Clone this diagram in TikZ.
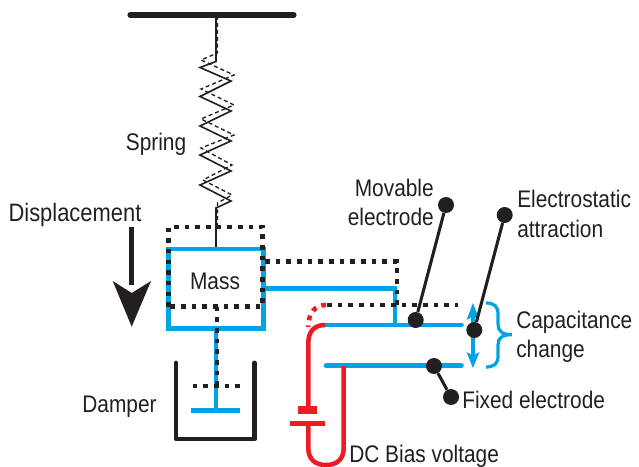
\documentclass[tikz,border=0pt]{standalone}
\usepackage{fontspec}
\setmainfont[FakeStretch=0.87]{Liberation Sans}
\definecolor{bl}{HTML}{00A4E4}
\definecolor{rd}{HTML}{ED1C24}
\definecolor{bk}{HTML}{231F20}
\tikzset{
 x=0.75pt,y=-0.75pt,
 lbl/.style={text=bk,font=\fontsize{18}{21.8}\selectfont,inner sep=0pt},
 blue line/.style={draw=bl,line width=3.5pt},
 red line/.style={draw=rd,line width=3.4pt},
 dots/.style={draw=bk,line width=3.4pt,dash pattern=on 3.4pt off 4.6pt},
 thin dash/.style={draw=bk,line width=1pt,dash pattern=on 3pt off 2.2pt},
 spring/.style={draw=bk,line width=1.2pt},
 heavy/.style={draw=bk,line width=3.6pt},
 dot/.style={circle,fill=bk,minimum size=12pt,inner sep=0pt},
 leader/.style={draw=bk,line width=2.3pt},
}
\begin{document}
\begin{tikzpicture}
\useasboundingbox (0,0) rectangle (639,467);
% frame
\draw[draw=bk,line width=3.8pt,line cap=round] (130,15) -- (294,15);
% spring
\draw[thin dash] (217.5,16) -- (217.5,53) -- (201,60) -- (234,75) -- (201,89) -- (234,105) -- (201,119) -- (234,135) -- (201,148) -- (232,165) -- (203,180) -- (232,195) -- (217.5,203) -- (217.5,227);
\draw[spring] (216,15) -- (216,61.5) -- (200,67.5) -- (231,81) -- (200,96.5) -- (231,111) -- (200,126) -- (231,141) -- (200,155) -- (231,171) -- (200,185) -- (231,201) -- (216,208) -- (216,249);
% mass and damper, moving parts
\draw[blue line] (168.8,249) rectangle (263.5,328.8);
\draw[blue line] (216,330) -- (216,410.5);
\draw[blue line] (190.7,410.5) -- (240,410.5);
\draw[heavy,line cap=round,line join=round] (176,363) -- (176,439) -- (254.7,439) -- (254.7,363);
\draw[dots] (168.5,306.7) -- (168.5,227) -- (262.7,227) -- (262.7,306.7) -- cycle;
\draw[dots] (217,306.7) -- (217,386);
\draw[dots] (192.7,386) -- (242,386);
% displacement arrow
\draw[draw=bk,line width=3.8pt] (131.7,227) -- (131.7,285);
\fill[bk] (131.7,326.7) -- (112.7,281) -- (131.7,293) -- (151,281) -- cycle;
% electrode links
\draw[blue line] (265,288.3) -- (395,288.3) -- (395,325);
\draw[dots] (265,261.7) -- (397,261.7) -- (397,305);
\draw[dots] (327,305) -- (458,305);
\draw[blue line,line cap=round] (326,325) -- (461.5,325);
\draw[blue line,line cap=round] (326,365.7) -- (461.5,365.7);
% bias circuit
\draw[red line,dash pattern=on 3.6pt off 4pt] (326,305) .. controls (315,305) and (308.3,313) .. (308.3,327);
\draw[red line] (325,325) .. controls (314,325) and (308.3,332) .. (308.3,343) -- (308.3,407);
\fill[rd] (297.7,406) rectangle (317.3,414.3);
\draw[draw=rd,line width=3.7pt] (290,423.7) -- (325,423.7);
\draw[red line] (308.3,423.7) -- (308.3,448) .. controls (308.3,459) and (315,465) .. (326,465) .. controls (337,465) and (343.7,459) .. (343.7,448) -- (343.7,366);
% capacitance arrow and brace
\draw[draw=bl,line width=2.3pt] (473,315) -- (473,357);
\fill[bl] (473,303) -- (479.5,320) -- (473,316.5) -- (466.5,320) -- cycle;
\fill[bl] (473,368) -- (479.5,352) -- (473,355.5) -- (466.5,352) -- cycle;
\draw[draw=bl,line width=2.4pt] (486,303) .. controls (494,303) and (498,306) .. (498,314) -- (498,324) .. controls (498,331) and (502,334.7) .. (511.7,334.7) .. controls (502,334.7) and (498,338) .. (498,345) -- (498,356) .. controls (498,364) and (494,367) .. (486,367);
% leaders
\node[dot] (movA) at (415.7,320) {};
\node[dot] (movB) at (446,205) {};
\node[dot] (elA) at (474.3,330) {};
\node[dot] (elB) at (504.7,215) {};
\node[dot] (fixA) at (434,366) {};
\node[dot] (fixB) at (451,397) {};
\draw[leader] (movA) -- (movB);
\draw[leader] (elA) -- (elB);
\draw[leader] (fixA) -- (fixB);
% labels
\node[lbl,anchor=base] (spring) at (156,150) {Spring};
\node[lbl,anchor=base,font=\fontsize{18.9}{22}\selectfont] (disp) at (75,221) {Displacement};
\node[lbl,anchor=base] (mass) at (215,289.5) {Mass};
\node[lbl,anchor=base] (damper) at (119.5,412.5) {Damper};
\node[lbl,anchor=base east,align=right] (mov) at (434,225.5) {Movable\\electrode};
\node[lbl,anchor=base west,align=left] (att) at (517,237) {Electrostatic\\attraction};
\node[lbl,anchor=base west,align=left] (cap) at (516,357.5) {Capacitance\\change};
\node[lbl,anchor=base west] (fix) at (462,408.3) {Fixed electrode};
\node[lbl,anchor=base west] (dc) at (349,462.5) {DC Bias voltage};
\end{tikzpicture}
\end{document}
